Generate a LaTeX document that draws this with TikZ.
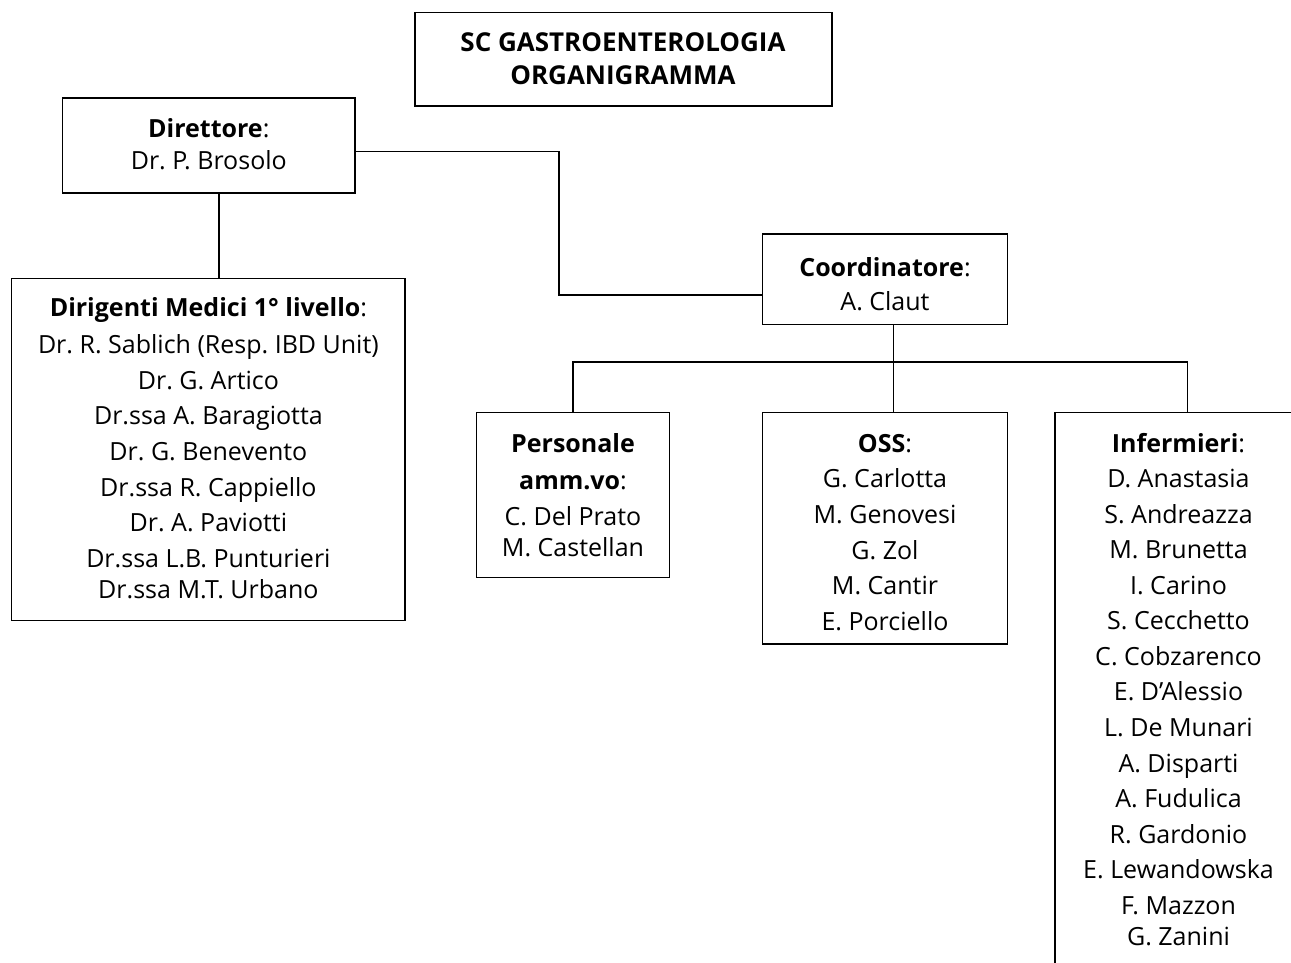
\documentclass[tikz,border=0pt]{standalone}
\usepackage{fontspec}
\setmainfont{Open Sans}
\frenchspacing
\begin{document}
\begin{tikzpicture}[x=1pt,y=-1pt,line width=1.3pt,
  box/.style={draw,line width=1.3pt,rectangle,inner sep=0pt},
  txt/.style={anchor=north,inner sep=0pt,align=center},
  conn/.style={line width=1.3pt}]
\useasboundingbox (0,0) rectangle (1291,962);
\clip (0,0) rectangle (1291,962);
% boxes
\node[box,minimum width=417pt,minimum height=93.7pt] (title) at (623.6,59.2) {};
\node[box,minimum width=292.3pt,minimum height=95pt] (dir) at (208.85,145.5) {};
\node[box,minimum width=393.3pt,minimum height=342.4pt] (dirig) at (208.35,449.5) {};
\node[box,minimum width=244.6pt,minimum height=90.3pt] (coord) at (885,279.15) {};
\node[box,minimum width=192.6pt,minimum height=165.4pt] (pers) at (573,495) {};
\node[box,minimum width=244.6pt,minimum height=231.7pt] (oss) at (885,528.15) {};
\node[box,minimum width=247pt,minimum height=620pt] (inf) at (1178.5,722.3) {};
% texts
\node[txt,font=\fontsize{26}{32.4}\selectfont\bfseries] (ttitle) at (623,29.2)
  {\rule{0pt}{22pt}SC GASTROENTEROLOGIA\\ORGANIGRAMMA};
\node[txt,font=\fontsize{25}{32.8}\selectfont] (tdir) at (208.8,114.4)
  {\rule{0pt}{22pt}\textbf{Direttore}:\\Dr. P. Brosolo};
\node[txt,font=\fontsize{25}{35.6}\selectfont] (tdirig) at (208.4,294.2)
  {\rule{0pt}{22pt}\textbf{Dirigenti Medici 1° livello}:\\[1.2pt]
   Dr. R. Sablich (Resp. IBD Unit)\\
   Dr. G. Artico\\
   Dr.ssa A. Baragiotta\\
   Dr. G. Benevento\\
   Dr.ssa R. Cappiello\\
   Dr. A. Paviotti\\
   Dr.ssa L.B. Punturieri\\[-4.4pt]
   Dr.ssa M.T. Urbano};
\node[txt,font=\fontsize{25}{34.5}\selectfont] (tcoord) at (885,253.5)
  {\rule{0pt}{22pt}\textbf{Coordinatore}:\\A. Claut};
\node[txt,font=\fontsize{25}{35.3}\selectfont] (tpers) at (573,430.3)
  {\rule{0pt}{22pt}\textbf{Personale}\\[1.7pt]\textbf{amm.vo}:\\C. Del Prato\\[-4pt]M. Castellan};
\node[txt,font=\fontsize{25}{35.6}\selectfont] (toss) at (885,429.6)
  {\rule{0pt}{22pt}\textbf{OSS}:\\G. Carlotta\\M. Genovesi\\G. Zol\\M. Cantir\\E. Porciello};
\node[txt,font=\fontsize{25}{35.55}\selectfont] (tinf) at (1178.5,429.4)
  {\rule{0pt}{22pt}\textbf{Infermieri}:\\
   D. Anastasia\\
   S. Andreazza\\
   M. Brunetta\\
   I. Carino\\
   S. Cecchetto\\
   C. Cobzarenco\\
   E. D’Alessio\\
   L. De Munari\\
   A. Disparti\\
   A. Fudulica\\
   R. Gardonio\\
   E. Lewandowska\\
   F. Mazzon\\[-4.5pt]
   G. Zanini};
% connectors
\coordinate (elbow) at (559,0);
\coordinate (bus) at (0,362);
\coordinate (dirout) at ([yshift=-6.2pt]dir.east);
\coordinate (coordin) at ([yshift=-15.8pt]coord.west);
\coordinate (coordout) at ([xshift=8.3pt]coord.south);
\coordinate (infin) at ([xshift=8.8pt]inf.north);
\coordinate (dirdown) at ([xshift=10.2pt]dir.south);
\draw[conn] (dirdown) -- (dirdown |- dirig.north);
\draw[conn] (dirout) -- (dirout -| elbow) -- (elbow |- coordin) -- (coordin);
\draw[conn] (coordout) -- (coordout |- oss.north);
\draw[conn] (pers.north) -- (pers.north |- bus) -- (infin |- bus) -- (infin);
\end{tikzpicture}
\end{document}
